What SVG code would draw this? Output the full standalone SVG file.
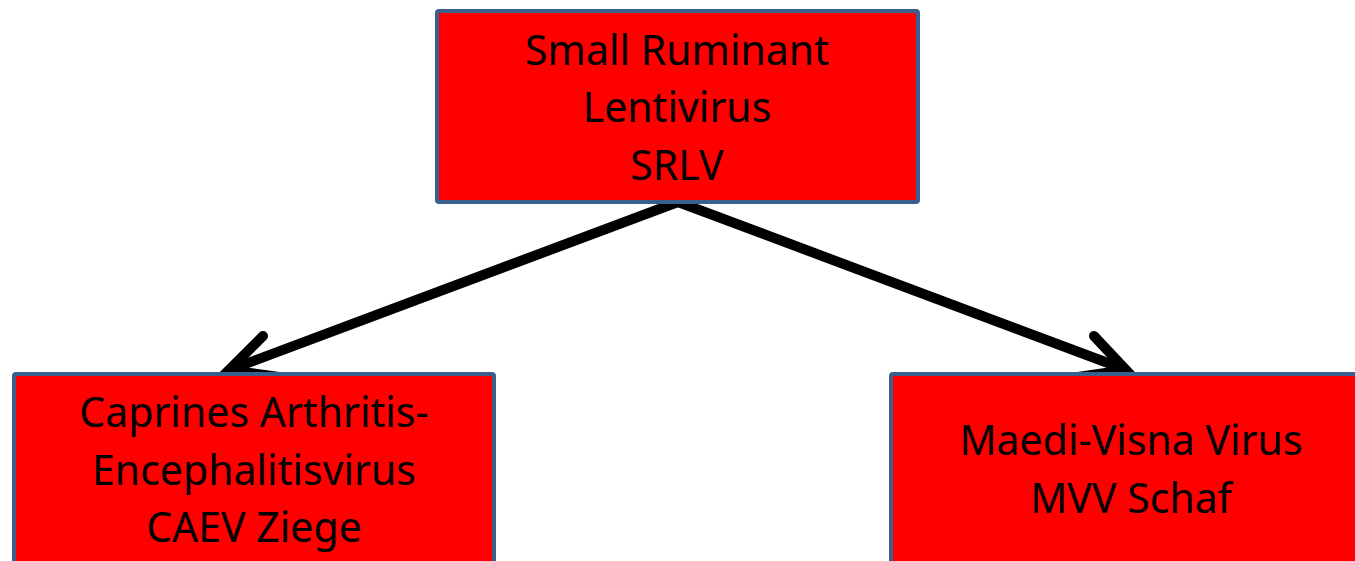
<svg xmlns="http://www.w3.org/2000/svg" width="1355" height="561" viewBox="0 0 1355 561">
<style>
.box{fill:#FF0000;stroke:#3B5F8C;stroke-width:4}
.t{font-family:"Noto Sans","Open Sans",sans-serif;font-size:41px;fill:#000;text-anchor:middle}
.ln{stroke:#000;stroke-width:10;fill:none}
.hd{stroke:#000;stroke-width:10;fill:none;stroke-linecap:round;stroke-linejoin:miter}
</style>
<rect width="1355" height="561" fill="#fff"/>
<g id="connectors">
<line class="ln" x1="678" y1="202" x2="232" y2="369"/>
<path class="hd" d="M263,336 L229,370 L279,377"/>
<line class="ln" x1="678" y1="202" x2="1124" y2="369"/>
<path class="hd" d="M1094,336 L1126,370 L1078,377"/>
</g>
<g id="srlv">
<rect class="box" x="437" y="11" width="481" height="191" rx="2"/>
<text class="t" x="677" y="65">Small Ruminant</text>
<text class="t" x="677" y="122">Lentivirus</text>
<text class="t" x="677" y="180">SRLV</text>
</g>
<g id="caev">
<rect class="box" x="14" y="374" width="480" height="200" rx="2"/>
<text class="t" x="254" y="427">Caprines Arthritis-</text>
<text class="t" x="254" y="485">Encephalitisvirus</text>
<text class="t" x="254" y="542">CAEV Ziege</text>
</g>
<g id="mvv">
<rect class="box" x="891" y="374" width="482" height="200" rx="2"/>
<text class="t" x="1131" y="455">Maedi-Visna Virus</text>
<text class="t" x="1131" y="513">MVV Schaf</text>
</g>
</svg>
